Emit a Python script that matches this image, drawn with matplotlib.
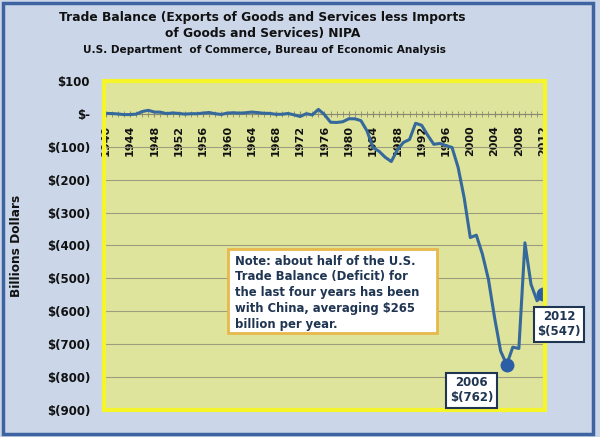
import matplotlib
matplotlib.use('Agg')
import matplotlib.pyplot as plt
from matplotlib.patches import Rectangle
from matplotlib.ticker import FuncFormatter, MultipleLocator
import numpy as np

years = np.arange(1940, 2013)
balance = [1.4, 1.0, -0.3, -2.2, -2.0, -0.8, 7.2, 10.8, 5.5, 5.2,
           0.7, 2.9, 1.3, -0.7, 0.5, 0.5, 2.4, 4.1, 0.5, -1.7,
           2.4, 3.4, 2.4, 3.3, 5.5, 3.9, 1.9, 1.4, -1.3, -1.2,
           1.2, -3.0, -8.0, 0.6, -3.1, 13.6, -2.3, -25.4, -26.1, -24.0,
           -14.9, -15.0, -20.5, -51.7, -102.7, -114.0, -131.9, -144.8, -109.4, -86.7,
           -77.9, -28.6, -34.7, -65.2, -92.5, -89.8, -96.4, -102.0, -162.7, -255.4,
           -375.8, -368.7, -426.5, -503.7, -619.2, -721.2, -762.0, -709.0, -713.0, -392.0,
           -518.0, -568.0, -547.0]
marked_years = [2006, 2012]
marked_labels = ['2006\n$(762)', '2012\n$(547)']
note = ('Note: about half of the U.S.\nTrade Balance (Deficit) for\n'
        'the last four years has been\nwith China, averaging $265\n'
        'billion per year.')

navy = '#1f3552'
fig = plt.figure(figsize=(6, 4.37), dpi=100)
fig.patch.set_facecolor('#cbd7e9')
fig.patches.append(Rectangle((0.005, 0.006), 0.983, 0.988, transform=fig.transFigure,
                             fill=False, ec='#3d64a0', lw=2.5))

fig.text(0.437, 0.942, 'Trade Balance (Exports of Goods and Services less Imports\n'
         'of Goods and Services) NIPA', ha='center', va='center',
         fontsize=8.8, fontweight='bold', color='#111111', linespacing=1.3)
fig.text(0.441, 0.886, 'U.S. Department  of Commerce, Bureau of Economic Analysis',
         ha='center', va='center', fontsize=7.6, fontweight='bold', color='#111111')

ax = fig.add_axes([0.1733, 0.0618, 0.735, 0.7529])
ax.set_facecolor('#dfe49c')
ax.plot(years, balance, color='#36699b', lw=2.2, zorder=3)
idx = [list(years).index(y) for y in marked_years]
ax.plot([years[i] for i in idx], [balance[i] for i in idx], 'o',
        color='#2c5ea6', ms=9, zorder=4)

ax.set_xlim(1939.7, 2012.3)
ax.set_ylim(-900, 100)
ax.set_yticks(np.arange(-900, 101, 100))


def money(v, pos):
    if v == 0:
        return '$-'
    if v < 0:
        return '$(%d)' % -v
    return '$%d' % v


ax.yaxis.set_major_formatter(FuncFormatter(money))
ax.yaxis.grid(True, color='#9c9c7e', lw=0.8)
ax.set_axisbelow(True)

for s in ['top', 'left', 'right']:
    ax.spines[s].set_visible(False)
ax.spines['bottom'].set_position(('data', 0))
ax.spines['bottom'].set_color('#8a8a70')
ax.xaxis.set_major_locator(MultipleLocator(4))
ax.xaxis.set_minor_locator(MultipleLocator(1))
ax.tick_params(axis='x', which='both', direction='inout', length=4, color='#8a8a70',
               labelsize=8, pad=6, labelrotation=90)
ax.tick_params(axis='y', length=0, pad=10, labelsize=8.5)
for lab in ax.get_xticklabels() + ax.get_yticklabels():
    lab.set_fontweight('bold')
    lab.set_color('#111111')

ax.add_patch(Rectangle((0, 0), 1, 1, transform=ax.transAxes, fill=False,
                       ec='#f5f52a', lw=3, clip_on=False, zorder=5))

ax.set_ylabel('Billions Dollars', fontsize=8.7, fontweight='bold', color='#111111')
ax.yaxis.set_label_coords(-0.184, 0.5)

# note box
ax.add_patch(Rectangle((1960.1, -665), 34.4, 254, fc='white', ec='#e7b84c',
                       lw=2, zorder=6))
ax.text(1961.2, -428, note, ha='left', va='top', fontsize=8.4, fontweight='bold',
        color=navy, linespacing=1.28, zorder=7)

ax.text(2000.2, -840, marked_labels[0], ha='center', va='center', fontsize=8.5,
        fontweight='bold', color=navy, zorder=6, clip_on=False,
        bbox=dict(boxstyle='square,pad=0.3', fc='white', ec=navy, lw=1.5))
ax.text(2014.6, -640, marked_labels[1], ha='center', va='center', fontsize=8.5,
        fontweight='bold', color=navy, zorder=6, clip_on=False,
        bbox=dict(boxstyle='square,pad=0.3', fc='white', ec=navy, lw=1.5))

fig.savefig('out.png', dpi=100, facecolor=fig.get_facecolor())
